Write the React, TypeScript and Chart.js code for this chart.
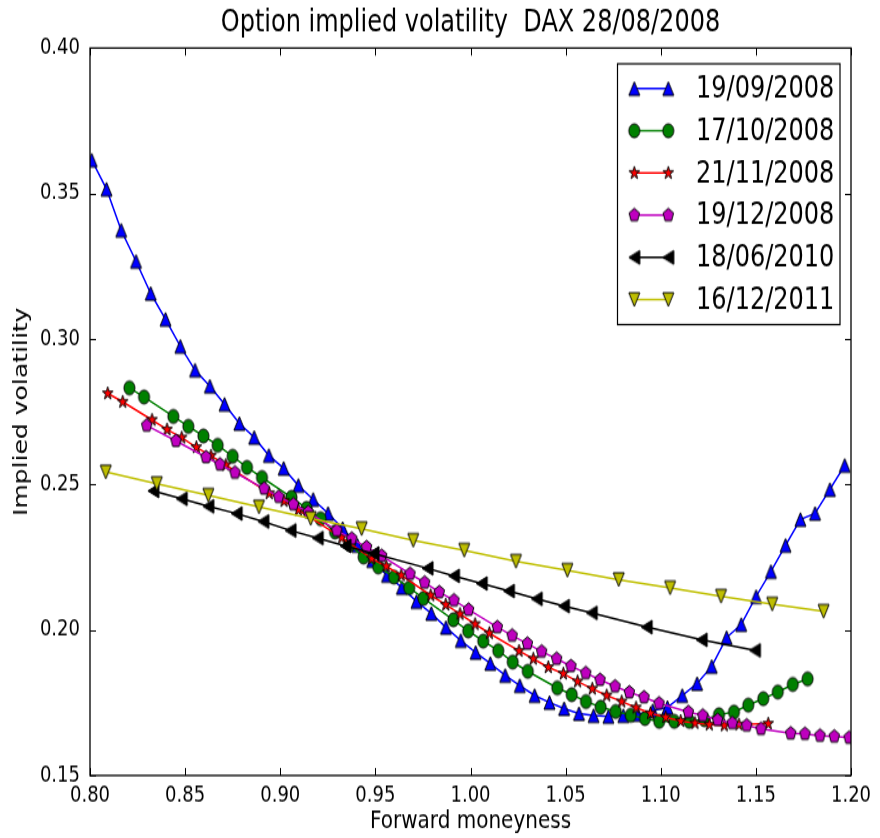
import React, { useEffect, useRef } from 'react';
import { Chart, registerables } from 'chart.js';

Chart.register(...registerables);

// ---- data (forward moneyness, implied volatility) ----
const sep08X = [0.8009, 0.8087, 0.8164, 0.8242, 0.8319, 0.8397, 0.8475, 0.8552, 0.8630, 0.8707, 0.8785, 0.8863, 0.8940, 0.9018, 0.9095, 0.9173, 0.9251, 0.9328, 0.9406, 0.9483, 0.9561, 0.9639, 0.9716, 0.9794, 0.9871, 0.9949, 1.0027, 1.0104, 1.0182, 1.0259, 1.0337, 1.0415, 1.0492, 1.0570, 1.0647, 1.0725, 1.0803, 1.0880, 1.0958, 1.1035, 1.1113, 1.1191, 1.1268, 1.1346, 1.1423, 1.1501, 1.1579, 1.1656, 1.1734, 1.1811, 1.1889, 1.1967];
const sep08Y = [0.3615, 0.3515, 0.3374, 0.3267, 0.3157, 0.3068, 0.2975, 0.2893, 0.2838, 0.2776, 0.2710, 0.2662, 0.2600, 0.2556, 0.2497, 0.2449, 0.2401, 0.2349, 0.2291, 0.2239, 0.2188, 0.2146, 0.2098, 0.2057, 0.2009, 0.1964, 0.1923, 0.1885, 0.1844, 0.1809, 0.1775, 0.1751, 0.1730, 0.1713, 0.1706, 0.1703, 0.1706, 0.1710, 0.1723, 0.1734, 0.1775, 0.1816, 0.1875, 0.1974, 0.2019, 0.2115, 0.2201, 0.2291, 0.2380, 0.2401, 0.2483, 0.2566];

const oct08X = [0.8207, 0.8284, 0.8438, 0.8517, 0.8596, 0.8671, 0.8750, 0.8825, 0.8904, 0.9059, 0.9138, 0.9212, 0.9288, 0.9364, 0.9438, 0.9515, 0.9598, 0.9678, 0.9753, 0.9910, 0.9988, 1.0067, 1.0146, 1.0222, 1.0301, 1.0456, 1.0532, 1.0607, 1.0684, 1.0763, 1.0842, 1.0917, 1.0992, 1.1071, 1.1150, 1.1229, 1.1306, 1.1385, 1.1460, 1.1539, 1.1615, 1.1694, 1.1772];
const oct08Y = [0.2832, 0.2801, 0.2734, 0.2700, 0.2667, 0.2635, 0.2597, 0.2559, 0.2524, 0.2456, 0.2418, 0.2382, 0.2337, 0.2294, 0.2251, 0.2217, 0.2182, 0.2145, 0.2109, 0.2035, 0.1997, 0.1962, 0.1929, 0.1890, 0.1858, 0.1801, 0.1778, 0.1754, 0.1735, 0.1720, 0.1707, 0.1696, 0.1686, 0.1686, 0.1686, 0.1692, 0.1709, 0.1718, 0.1742, 0.1764, 0.1787, 0.1813, 0.1832];

const nov08X = [0.8093, 0.8172, 0.8326, 0.8405, 0.8482, 0.8559, 0.8636, 0.8714, 0.8942, 0.9020, 0.9095, 0.9323, 0.9481, 0.9557, 0.9636, 0.9791, 0.9870, 0.9945, 1.0024, 1.0099, 1.0255, 1.0330, 1.0409, 1.0488, 1.0563, 1.0640, 1.0716, 1.0795, 1.0870, 1.0946, 1.1026, 1.1105, 1.1180, 1.1255, 1.1334, 1.1411, 1.1565];
const nov08Y = [0.2813, 0.2784, 0.2722, 0.2689, 0.2661, 0.2628, 0.2599, 0.2567, 0.2470, 0.2443, 0.2413, 0.2317, 0.2245, 0.2219, 0.2188, 0.2119, 0.2087, 0.2055, 0.2020, 0.1989, 0.1928, 0.1901, 0.1872, 0.1850, 0.1823, 0.1798, 0.1775, 0.1754, 0.1733, 0.1714, 0.1700, 0.1687, 0.1680, 0.1675, 0.1672, 0.1675, 0.1678];

const dec08X = [0.8298, 0.8452, 0.8610, 0.8683, 0.8762, 0.8915, 0.8992, 0.9069, 0.9147, 0.9297, 0.9376, 0.9454, 0.9533, 0.9682, 0.9759, 0.9836, 0.9913, 0.9990, 1.0141, 1.0219, 1.0299, 1.0374, 1.0453, 1.0528, 1.0606, 1.0681, 1.0760, 1.0835, 1.0912, 1.0991, 1.1145, 1.1221, 1.1299, 1.1376, 1.1452, 1.1527, 1.1683, 1.1758, 1.1837, 1.1912, 1.1990];
const dec08Y = [0.2703, 0.2650, 0.2594, 0.2569, 0.2541, 0.2486, 0.2458, 0.2432, 0.2405, 0.2342, 0.2314, 0.2285, 0.2255, 0.2193, 0.2163, 0.2130, 0.2102, 0.2070, 0.2010, 0.1981, 0.1953, 0.1926, 0.1901, 0.1876, 0.1852, 0.1829, 0.1806, 0.1786, 0.1769, 0.1748, 0.1718, 0.1706, 0.1691, 0.1680, 0.1672, 0.1660, 0.1645, 0.1643, 0.1637, 0.1634, 0.1630];

const jun10X = [0.8333, 0.8482, 0.8622, 0.8771, 0.8911, 0.9054, 0.9197, 0.9343, 0.9490, 0.9774, 0.9913, 1.0059, 1.0202, 1.0348, 1.0491, 1.0637, 1.0926, 1.1215, 1.1495];
const jun10Y = [0.2478, 0.2451, 0.2425, 0.2400, 0.2373, 0.2342, 0.2316, 0.2289, 0.2263, 0.2212, 0.2186, 0.2160, 0.2134, 0.2107, 0.2082, 0.2059, 0.2010, 0.1966, 0.1930];

const dec11X = [0.8083, 0.8351, 0.8622, 0.8888, 0.9160, 0.9428, 0.9699, 0.9967, 1.0239, 1.0509, 1.0779, 1.1049, 1.1317, 1.1586, 1.1856];
const dec11Y = [0.2543, 0.2503, 0.2463, 0.2423, 0.2383, 0.2348, 0.2308, 0.2274, 0.2236, 0.2205, 0.2173, 0.2145, 0.2116, 0.2089, 0.2064];

const seriesLabels = ['19/09/2008', '17/10/2008', '21/11/2008', '19/12/2008', '18/06/2010', '16/12/2011'];

const xTickValues = [0.80, 0.85, 0.90, 0.95, 1.00, 1.05, 1.10, 1.15, 1.20];
const xTickLabels = ['0.80', '0.85', '0.90', '0.95', '1.00', '1.05', '1.10', '1.15', '1.20'];
const yTickValues = [0.15, 0.20, 0.25, 0.30, 0.35, 0.40];
const yTickLabels = ['0.15', '0.20', '0.25', '0.30', '0.35', '0.40'];

const titleText = 'Option implied volatility  DAX 28/08/2008';
const xTitle = 'Forward moneyness';
const yTitle = 'Implied volatility';

// ---- styling ----
const FONT = '"DejaVu Sans", Verdana, sans-serif';
const colors = ['#0000ff', '#008000', '#ff0000', '#bf00bf', '#000000', '#bfbf00'];
const shapes = ['up', 'circle', 'star', 'pentagon', 'left', 'down'];
const MS = 11;

function makeMarker(kind: string, fill: string): HTMLCanvasElement {
  const pad = 2;
  const c = document.createElement('canvas');
  c.width = MS + pad * 2;
  c.height = MS + pad * 2;
  const ctx = c.getContext('2d')!;
  const cx = c.width / 2;
  const cy = c.height / 2;
  const r = MS / 2;
  ctx.beginPath();
  if (kind === 'up') {
    ctx.moveTo(cx, cy - r); ctx.lineTo(cx - r, cy + r); ctx.lineTo(cx + r, cy + r);
  } else if (kind === 'down') {
    ctx.moveTo(cx, cy + r); ctx.lineTo(cx - r, cy - r); ctx.lineTo(cx + r, cy - r);
  } else if (kind === 'left') {
    ctx.moveTo(cx - r, cy); ctx.lineTo(cx + r, cy - r); ctx.lineTo(cx + r, cy + r);
  } else if (kind === 'circle') {
    ctx.arc(cx, cy, r, 0, Math.PI * 2);
  } else if (kind === 'star') {
    for (let i = 0; i < 10; i++) {
      const rr = i % 2 === 0 ? r : r * 0.381966;
      const a = -Math.PI / 2 + (i * Math.PI) / 5;
      const px = cx + rr * Math.cos(a);
      const py = cy + rr * Math.sin(a);
      if (i === 0) ctx.moveTo(px, py); else ctx.lineTo(px, py);
    }
  } else if (kind === 'pentagon') {
    for (let i = 0; i < 5; i++) {
      const a = -Math.PI / 2 + (i * 2 * Math.PI) / 5;
      const px = cx + r * Math.cos(a);
      const py = cy + r * Math.sin(a);
      if (i === 0) ctx.moveTo(px, py); else ctx.lineTo(px, py);
    }
  }
  ctx.closePath();
  ctx.fillStyle = fill;
  ctx.fill();
  ctx.strokeStyle = '#000000';
  ctx.lineWidth = 1;
  ctx.stroke();
  return c;
}

export default function App() {
  const ref = useRef<HTMLCanvasElement>(null);

  useEffect(() => {
    document.body.style.margin = '0';
    const canvas = ref.current;
    if (!canvas) return;

    const xs = [sep08X, oct08X, nov08X, dec08X, jun10X, dec11X];
    const ys = [sep08Y, oct08Y, nov08Y, dec08Y, jun10Y, dec11Y];
    const markers = shapes.map((s, i) => makeMarker(s, colors[i]));

    const datasets = seriesLabels.map((label, i) => ({
      label,
      data: xs[i].map((x, j) => ({ x, y: ys[i][j] })),
      borderColor: colors[i],
      backgroundColor: colors[i],
      borderWidth: 1.5,
      pointStyle: markers[i] as any,
      pointRadius: 5.5,
      pointHoverRadius: 5.5,
      tension: 0,
      fill: false,
      order: seriesLabels.length - i,
    }));

    const framePlugin = {
      id: 'mplFrame',
      afterDatasetsDraw(chart: any) {
        const { ctx, chartArea } = chart;
        const { left, right, top, bottom } = chartArea;
        const xs_ = chart.scales.x;
        const ys_ = chart.scales.y;
        ctx.save();
        ctx.strokeStyle = '#000000';
        ctx.lineWidth = 1;
        const L = 6;
        ctx.beginPath();
        xTickValues.forEach((v) => {
          const px = Math.round(xs_.getPixelForValue(v)) + 0.5;
          ctx.moveTo(px, bottom); ctx.lineTo(px, bottom - L);
          ctx.moveTo(px, top); ctx.lineTo(px, top + L);
        });
        yTickValues.forEach((v) => {
          const py = Math.round(ys_.getPixelForValue(v)) + 0.5;
          ctx.moveTo(left, py); ctx.lineTo(left + L, py);
          ctx.moveTo(right, py); ctx.lineTo(right - L, py);
        });
        ctx.stroke();
        ctx.lineWidth = 1.3;
        ctx.strokeRect(left, top, right - left, bottom - top);
        ctx.restore();
      },
      afterDraw(chart: any) {
        const { ctx, chartArea } = chart;
        const { left, right, top, bottom } = chartArea;
        ctx.save();
        ctx.fillStyle = '#000000';
        // title
        ctx.font = `24px ${FONT}`;
        ctx.textAlign = 'center';
        ctx.textBaseline = 'middle';
        ctx.fillText(titleText, (left + right) / 2, 18.5);
        // x title
        ctx.font = `20px ${FONT}`;
        ctx.fillText(xTitle, (left + right) / 2, 657);
        // y title
        ctx.save();
        ctx.translate(22, (top + bottom) / 2);
        ctx.rotate(-Math.PI / 2);
        ctx.fillText(yTitle, 0, 0);
        ctx.restore();

        // legend
        const bx = 617.5, by = 51, bw = 222.5, bh = 208.5;
        ctx.fillStyle = '#ffffff';
        ctx.fillRect(bx, by, bw, bh);
        ctx.strokeStyle = '#000000';
        ctx.lineWidth = 1.2;
        ctx.strokeRect(bx, by, bw, bh);
        ctx.font = `24px ${FONT}`;
        ctx.textAlign = 'left';
        ctx.textBaseline = 'middle';
        seriesLabels.forEach((lab, i) => {
          const ry = 70.8 + i * 33.75;
          ctx.strokeStyle = colors[i];
          ctx.lineWidth = 1.5;
          ctx.beginPath();
          ctx.moveTo(634.3, ry);
          ctx.lineTo(668.3, ry);
          ctx.stroke();
          const m = markers[i];
          ctx.drawImage(m, 634.3 - m.width / 2, ry - m.height / 2);
          ctx.drawImage(m, 668.3 - m.width / 2, ry - m.height / 2);
          ctx.fillStyle = '#000000';
          ctx.fillText(lab, 696, ry + 1);
        });
        ctx.restore();
      },
    };

    const chart = new Chart(canvas, {
      type: 'line',
      data: { datasets },
      options: {
        responsive: false,
        animation: false,
        devicePixelRatio: 1,
        events: [],
        layout: { padding: { top: 38.4, right: 29, left: 0, bottom: 0 } },
        plugins: {
          legend: { display: false },
          title: { display: false },
          tooltip: { enabled: false },
        },
        scales: {
          x: {
            type: 'linear',
            min: 0.8,
            max: 1.2,
            grid: { display: false, drawTicks: false },
            border: { display: false },
            afterBuildTicks: (axis: any) => {
              axis.ticks = xTickValues.map((v) => ({ value: v }));
            },
            afterFit: (axis: any) => {
              axis.height = 50;
            },
            ticks: {
              color: '#000000',
              font: { family: FONT, size: 18 },
              padding: 6,
              maxRotation: 0,
              autoSkip: false,
              callback: (_v: any, idx: number) => xTickLabels[idx],
            },
          },
          y: {
            type: 'linear',
            min: 0.15,
            max: 0.4,
            grid: { display: false, drawTicks: false },
            border: { display: false },
            afterBuildTicks: (axis: any) => {
              axis.ticks = yTickValues.map((v) => ({ value: v }));
            },
            afterFit: (axis: any) => {
              axis.width = 90;
            },
            ticks: {
              color: '#000000',
              font: { family: FONT, size: 18 },
              padding: 10,
              autoSkip: false,
              callback: (_v: any, idx: number) => yTickLabels[idx],
            },
          },
        },
      } as any,
      plugins: [framePlugin],
    });

    return () => {
      chart.destroy();
    };
  }, []);

  return (
    <canvas
      ref={ref}
      width={880}
      height={670}
      style={{ width: '880px', height: '838px', display: 'block' }}
    />
  );
}
